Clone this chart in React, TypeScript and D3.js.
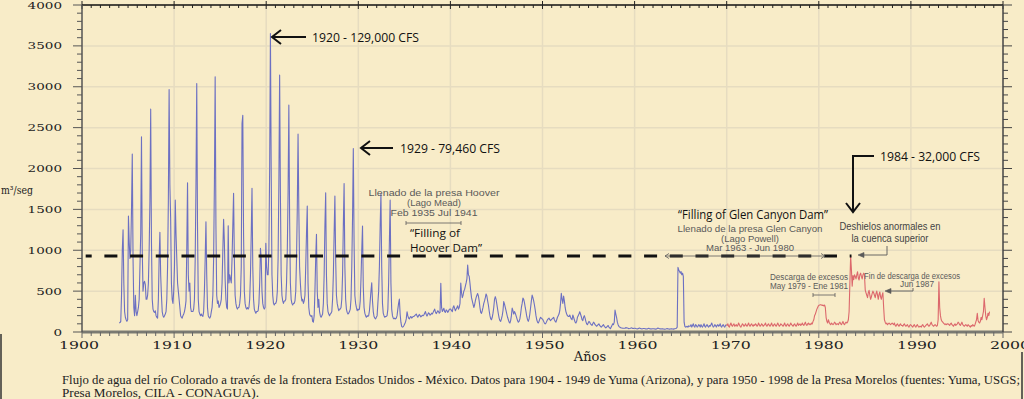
import React, { useEffect, useRef } from 'react';
import * as d3 from 'd3';

// Monthly flow of the Colorado river at the border (m3/s), one row per year, Jan..Dec
// Blue part of the record: 1904 - 1969
const blueStartYear = 1904;
const blueFlow: number[][] = [
  [110, 115, 130, 450, 1000, 1250, 600, 250, 180, 150, 130, 150], // 1904
  [1418, 1100, 900, 1000, 1500, 2176, 900, 300, 200, 450, 250, 200],
  [250, 300, 400, 800, 1200, 2388, 1000, 500, 600, 620, 580, 400],
  [400, 450, 600, 1000, 1600, 2726, 1100, 400, 280, 250, 240, 260],
  [200, 180, 170, 400, 900, 1220, 700, 450, 250, 200, 180, 200],
  [220, 250, 400, 800, 1600, 2966, 1800, 1390, 600, 400, 350, 500],
  [800, 1613, 1200, 900, 600, 500, 400, 300, 200, 180, 170, 200], // 1910
  [220, 250, 300, 380, 1000, 1825, 700, 500, 600, 300, 250, 250],
  [250, 280, 400, 900, 1800, 3040, 1300, 400, 250, 220, 200, 220],
  [200, 190, 250, 500, 900, 1349, 700, 300, 200, 180, 170, 190],
  [250, 300, 450, 900, 1800, 3122, 1300, 450, 350, 380, 300, 320],
  [350, 400, 600, 1000, 1378, 1100, 640, 400, 300, 280, 1300, 600],
  [700, 650, 600, 900, 1300, 1696, 900, 450, 350, 300, 280, 300],
  [300, 350, 450, 800, 2550, 2650, 1200, 500, 350, 300, 280, 300],
  [280, 300, 400, 700, 1200, 1757, 800, 400, 280, 250, 230, 250],
  [250, 260, 350, 600, 1025, 900, 500, 350, 300, 280, 300, 1085],
  [800, 700, 700, 1000, 2000, 3651, 2000, 700, 450, 350, 330, 350], // 1920
  [350, 380, 500, 900, 1800, 3142, 1700, 700, 450, 380, 350, 380],
  [380, 400, 600, 1000, 1700, 2775, 1400, 600, 400, 350, 330, 350],
  [350, 380, 500, 900, 1500, 2420, 1500, 800, 600, 450, 380, 400],
  [350, 380, 450, 800, 1200, 1540, 600, 300, 220, 200, 190, 200],
  [130, 120, 200, 500, 900, 1194, 500, 300, 400, 250, 200, 180],
  [200, 220, 350, 700, 1300, 1703, 700, 350, 250, 220, 200, 220],
  [230, 250, 400, 700, 1200, 1663, 900, 450, 350, 300, 260, 280],
  [280, 300, 400, 700, 1300, 1817, 800, 400, 280, 240, 220, 230],
  [250, 280, 400, 800, 1400, 2245, 1100, 450, 350, 300, 260, 280],
  [270, 280, 380, 650, 1000, 1296, 550, 300, 230, 200, 180, 200], // 1930
  [190, 200, 260, 380, 500, 603, 380, 250, 190, 170, 160, 180],
  [200, 350, 500, 800, 1300, 1695, 800, 350, 230, 200, 180, 190],
  [190, 200, 280, 600, 1100, 1613, 600, 280, 200, 170, 160, 170],
  [160, 170, 200, 280, 350, 403, 220, 120, 70, 60, 65, 80],
  [100, 120, 160, 248, 200, 170, 160, 180, 190, 170, 180, 190],
  [190, 200, 210, 220, 200, 180, 200, 215, 200, 185, 195, 205],
  [200, 210, 230, 250, 215, 195, 215, 235, 225, 205, 215, 230],
  [220, 240, 260, 280, 245, 225, 240, 260, 250, 230, 240, 595],
  [300, 250, 270, 290, 250, 240, 270, 260, 240, 255, 275, 280],
  [280, 260, 250, 300, 320, 290, 260, 280, 300, 320, 280, 300], // 1940
  [350, 600, 480, 420, 450, 500, 520, 560, 600, 650, 819, 700],
  [680, 595, 500, 420, 380, 340, 300, 330, 380, 420, 450, 470],
  [440, 380, 300, 240, 228, 260, 300, 350, 380, 420, 465, 440],
  [380, 330, 260, 200, 160, 150, 180, 230, 300, 400, 432, 400],
  [340, 280, 220, 170, 140, 130, 160, 200, 260, 371, 340, 300],
  [260, 220, 180, 150, 120, 110, 140, 200, 293, 260, 220, 250],
  [230, 200, 170, 140, 120, 130, 160, 220, 300, 350, 415, 400],
  [360, 300, 250, 190, 150, 130, 160, 220, 300, 380, 452, 420],
  [380, 330, 270, 200, 150, 120, 110, 130, 160, 180, 170, 160],
  [150, 130, 110, 100, 110, 130, 150, 160, 170, 150, 140, 150], // 1950
  [160, 170, 180, 150, 130, 120, 150, 180, 200, 220, 260, 350],
  [473, 400, 350, 440, 380, 300, 250, 220, 200, 190, 190, 208],
  [180, 160, 150, 208, 180, 150, 120, 110, 130, 180, 200, 220],
  [248, 220, 190, 150, 140, 180, 200, 170, 130, 100, 90, 110],
  [130, 120, 100, 90, 80, 100, 120, 110, 90, 80, 70, 80],
  [90, 100, 80, 70, 60, 70, 80, 90, 70, 60, 50, 60],
  [70, 80, 60, 50, 40, 60, 80, 100, 90, 120, 269, 220],
  [180, 120, 90, 70, 60, 55, 50, 48, 45, 45, 45, 45],
  [55, 50, 48, 45, 40, 42, 45, 50, 48, 44, 42, 45],
  [45, 42, 40, 38, 40, 45, 48, 44, 40, 38, 40, 42], // 1960
  [42, 40, 38, 36, 38, 42, 45, 40, 38, 36, 38, 40],
  [40, 38, 36, 35, 38, 42, 48, 44, 40, 38, 36, 38],
  [38, 36, 35, 34, 36, 40, 42, 38, 36, 35, 36, 38],
  [38, 36, 35, 38, 40, 42, 45, 60, 790, 760, 740, 720],
  [740, 700, 720, 680, 120, 70, 60, 65, 70, 60, 75, 70],
  [70, 90, 60, 80, 100, 70, 60, 90, 80, 60, 70, 90],
  [80, 60, 90, 70, 60, 80, 100, 70, 60, 80, 90, 70],
  [60, 80, 70, 90, 110, 80, 60, 70, 90, 80, 60, 80],
  [90, 70, 80, 100, 70, 60, 80, 90, 70, 60, 80, 90],
];

// Red part of the record: 1970 - 1998
const redStartYear = 1970;
const redFlow: number[][] = [
  [80, 100, 70, 60, 90, 110, 80, 70, 90, 100, 70, 80], // 1970
  [90, 70, 80, 110, 90, 70, 60, 80, 100, 90, 70, 80],
  [100, 80, 70, 90, 110, 80, 70, 90, 100, 80, 70, 90],
  [80, 100, 90, 70, 80, 110, 90, 70, 80, 100, 90, 70],
  [80, 90, 110, 80, 70, 90, 100, 80, 70, 90, 110, 80],
  [70, 90, 100, 80, 70, 90, 110, 90, 70, 80, 100, 90],
  [80, 70, 90, 110, 80, 70, 90, 100, 80, 70, 90, 110],
  [90, 80, 70, 90, 100, 80, 70, 90, 110, 80, 90, 100],
  [80, 90, 110, 90, 80, 100, 120, 90, 80, 100, 110, 90],
  [100, 90, 110, 100, 130, 150, 200, 220, 250, 280, 300, 320],
  [330, 330, 335, 330, 325, 330, 320, 330, 300, 180, 130, 110], // 1980
  [150, 120, 100, 90, 110, 100, 90, 100, 120, 110, 90, 100],
  [100, 90, 110, 120, 100, 90, 110, 130, 100, 90, 110, 120],
  [110, 120, 150, 250, 600, 930, 760, 560, 690, 640, 700, 680],
  [650, 700, 737, 660, 636, 700, 720, 680, 650, 697, 720, 700],
  [513, 480, 450, 420, 480, 510, 450, 400, 430, 470, 500, 480],
  [450, 420, 470, 500, 450, 400, 460, 490, 430, 400, 450, 480],
  [300, 150, 120, 100, 110, 90, 100, 110, 100, 90, 100, 110],
  [100, 90, 110, 80, 70, 90, 100, 80, 70, 90, 100, 80],
  [80, 70, 90, 100, 80, 70, 80, 90, 70, 60, 80, 90],
  [80, 70, 60, 80, 90, 70, 60, 80, 90, 70, 60, 70], // 1990
  [70, 60, 80, 90, 70, 60, 70, 80, 90, 100, 80, 70],
  [80, 100, 120, 90, 80, 70, 80, 90, 80, 70, 80, 150],
  [615, 300, 200, 150, 130, 120, 110, 100, 90, 100, 90, 100],
  [100, 90, 80, 100, 110, 90, 80, 70, 90, 100, 80, 90],
  [100, 120, 110, 90, 80, 100, 120, 90, 80, 70, 80, 90],
  [80, 70, 90, 80, 70, 60, 80, 70, 90, 80, 70, 90],
  [120, 150, 230, 140, 120, 110, 130, 180, 150, 200, 250, 412],
  [300, 200, 150, 180, 230, 200, 250], // 1998 (to Jul)
];

const yearTicks = [1900, 1910, 1920, 1930, 1940, 1950, 1960, 1970, 1980, 1990, 2000];
const flowTicks = [0, 500, 1000, 1500, 2000, 2500, 3000, 3500, 4000];
const gridYears = [1910, 1920, 1930, 1940, 1950, 1960, 1970, 1980, 1990];
const gridFlows = [500, 1000, 1500, 2000, 2500, 3000, 3500];

// 32,000 CFS level drawn as the dashed line
const thresholdFlow = 929;
const thresholdFrom = 1900.4;
const thresholdTo = 1983.55;

const peakLabels = ['1920 - 129,000 CFS', '1929 - 79,460 CFS', '1984 - 32,000 CFS'];
const captionLines = [
  'Flujo de agua del río Colorado a través de la frontera Estados Unidos - México. Datos para 1904 - 1949 de Yuma (Arizona), y para 1950 - 1998 de la Presa Morelos (fuentes: Yuma, USGS;',
  'Presa Morelos, CILA - CONAGUA).',
];

const BG = '#f8ecc8';
const GRID = '#e6dcc0';
const BLUE = '#6c70c2';
const RED = '#dc686c';
const NOTE = '#5a5a5a';
const SANS = "'Open Sans', 'Noto Sans', sans-serif";
const NARROW = "'Liberation Sans Narrow', 'Liberation Sans', sans-serif";
const SERIF = "'DejaVu Serif', serif";

type Pt = { t: number; v: number };

const toPoints = (rows: number[][], start: number): Pt[] =>
  rows.flatMap((row, i) => row.map((v, m) => ({ t: start + i + (m + 0.5) / 12, v })));

const App = () => {
  const svgRef = useRef<SVGSVGElement>(null);

  useEffect(() => {
    if (!svgRef.current) return;
    const width = 1024;
    const height = 399;
    const svg = d3.select(svgRef.current);
    svg.selectAll('*').remove();

    svg.append('rect').attr('width', width).attr('height', height).attr('fill', BG);

    const x = d3.scaleLinear().domain([1900, 2000]).range([82, 1003]);
    const y = d3.scaleLinear().domain([0, 4000]).range([332, 5]);
    const labelX = d3.scaleLinear().domain([1900, 2000]).range([79, 1010]);

    // grid
    svg.append('g').selectAll('line').data(gridYears).join('line')
      .attr('x1', d => x(d)).attr('x2', d => x(d))
      .attr('y1', y(4000)).attr('y2', y(0))
      .attr('stroke', GRID).attr('stroke-width', 1.5);
    svg.append('g').selectAll('line').data(gridFlows).join('line')
      .attr('x1', x(1900)).attr('x2', x(2000))
      .attr('y1', d => y(d)).attr('y2', d => y(d))
      .attr('stroke', GRID).attr('stroke-width', 1.5);

    // series
    const blue = toPoints(blueFlow, blueStartYear);
    const red = [blue[blue.length - 1], ...toPoints(redFlow, redStartYear)];
    const line = d3.line<Pt>().x(d => x(d.t)).y(d => y(d.v));
    svg.append('path').datum(blue).attr('d', line)
      .attr('fill', 'none').attr('stroke', BLUE).attr('stroke-width', 1.1)
      .attr('stroke-linejoin', 'round');
    svg.append('path').datum(red).attr('d', line)
      .attr('fill', 'none').attr('stroke', RED).attr('stroke-width', 1.1)
      .attr('stroke-linejoin', 'round');

    // axes frame
    const years = d3.range(1900, 2001);
    const hundreds = d3.range(0, 4001, 100);
    const axes = svg.append('g');
    axes.append('line').attr('x1', x(1900)).attr('x2', x(2000)).attr('y1', y(4000)).attr('y2', y(4000))
      .attr('stroke', '#111').attr('stroke-width', 1.5);
    axes.append('g').selectAll('line').data(years).join('line')
      .attr('x1', d => x(d)).attr('x2', d => x(d))
      .attr('y1', d => (d % 10 === 0 ? y(4000) - 4 : y(4000)))
      .attr('y2', d => (d % 10 === 0 ? y(4000) + 4 : y(4000) + 3))
      .attr('stroke', '#222').attr('stroke-width', 1);
    axes.append('line').attr('x1', x(1900)).attr('x2', x(2000)).attr('y1', y(0)).attr('y2', y(0))
      .attr('stroke', '#7a7a72').attr('stroke-width', 3);
    axes.append('g').selectAll('line').data(years).join('line')
      .attr('x1', d => x(d)).attr('x2', d => x(d))
      .attr('y1', y(0))
      .attr('y2', d => (d % 10 === 0 ? y(0) + 6 : y(0) + 4))
      .attr('stroke', '#666').attr('stroke-width', 1);
    axes.append('line').attr('x1', x(1900)).attr('x2', x(1900)).attr('y1', y(4000)).attr('y2', y(0))
      .attr('stroke', '#555').attr('stroke-width', 1.5);
    axes.append('g').selectAll('line').data(hundreds).join('line')
      .attr('x1', d => (d % 500 === 0 ? x(1900) - 9 : x(1900) - 5)).attr('x2', x(1900))
      .attr('y1', d => y(d)).attr('y2', d => y(d))
      .attr('stroke', '#555').attr('stroke-width', 1);
    axes.append('line').attr('x1', x(2000)).attr('x2', x(2000)).attr('y1', y(4000)).attr('y2', y(0))
      .attr('stroke', '#444').attr('stroke-width', 1.5);
    axes.append('g').selectAll('line').data(hundreds).join('line')
      .attr('x1', x(2000)).attr('x2', d => (d % 500 === 0 ? x(2000) + 9 : x(2000) + 5))
      .attr('y1', d => y(d)).attr('y2', d => y(d))
      .attr('stroke', '#444').attr('stroke-width', 1);

    // tick labels
    svg.append('g').selectAll('text').data(yearTicks).join('text')
      .attr('x', d => labelX(d) - 20).attr('y', 349)
      .attr('textLength', 40).attr('lengthAdjust', 'spacingAndGlyphs')
      .style('font-family', SERIF).style('font-size', '10.5px').style('fill', '#222')
      .text(d => d);
    svg.append('g').selectAll('text').data(flowTicks).join('text')
      .attr('x', d => 62 - String(d).length * 8.6).attr('y', d => y(d) + 3.5)
      .attr('textLength', d => String(d).length * 8.6).attr('lengthAdjust', 'spacingAndGlyphs')
      .style('font-family', SERIF).style('font-size', '9.5px').style('fill', '#222')
      .text(d => d);
    svg.append('text').attr('x', 1).attr('y', 194)
      .attr('textLength', 32).attr('lengthAdjust', 'spacingAndGlyphs')
      .style('font-family', SERIF).style('font-size', '11px').style('fill', '#222')
      .text('m³/seg');
    svg.append('text').attr('x', 590).attr('y', 361).attr('text-anchor', 'middle')
      .style('font-family', SERIF).style('font-size', '13px').style('fill', '#222')
      .text('Años');

    // caption
    svg.append('g').selectAll('text').data(captionLines).join('text')
      .attr('x', 62).attr('y', (d, i) => 384 + i * 12.5)
      .attr('textLength', (d, i) => (i === 0 ? 958 : 197)).attr('lengthAdjust', 'spacingAndGlyphs')
      .style('font-family', "'Liberation Serif', serif").style('font-size', '11.5px').style('fill', '#222')
      .text(d => d);
    svg.append('line').attr('x1', 1).attr('x2', 1).attr('y1', 334).attr('y2', 399)
      .attr('stroke', '#333').attr('stroke-width', 1.5);
    svg.append('line').attr('x1', 1022).attr('x2', 1022).attr('y1', 352).attr('y2', 399)
      .attr('stroke', '#333').attr('stroke-width', 1.5);

    // dashed 32,000 CFS level
    svg.append('line')
      .attr('x1', x(thresholdFrom)).attr('x2', x(thresholdTo))
      .attr('y1', y(thresholdFlow)).attr('y2', y(thresholdFlow))
      .attr('stroke', '#111').attr('stroke-width', 3)
      .attr('stroke-dasharray', '13 12.7').attr('stroke-dashoffset', 7);

    const note = svg.append('g');
    const text = (s: string, px: number, py: number, len: number, size: number, family: string, color: string, anchor = 'start') =>
      note.append('text').attr('x', px).attr('y', py).attr('text-anchor', anchor)
        .attr('textLength', len).attr('lengthAdjust', 'spacingAndGlyphs')
        .style('font-family', family).style('font-size', `${size}px`).style('fill', color)
        .text(s);
    const path = (d: string, color: string, w: number, fill = 'none') =>
      note.append('path').attr('d', d).attr('fill', fill).attr('stroke', color).attr('stroke-width', w);

    // peak callouts
    path('M306,37 L272,37 M281,30 L272,37 L281,44', '#111', 2);
    text(peakLabels[0], 312, 41.5, 107, 13, SANS, '#111');
    path('M393,148 L361,148 M370,141 L361,148 L370,155', '#111', 2);
    text(peakLabels[1], 400, 152.5, 100, 13, SANS, '#111');
    path('M874,156 L853,156 L853,212 M846,203 L853,212 L860,203', '#111', 2);
    text(peakLabels[2], 880, 160.5, 100, 13, SANS, '#111');

    // Hoover
    text('Llenado de la presa Hoover', 434, 196, 131, 9.5, NARROW, NOTE, 'middle');
    text('(Lago Mead)', 434, 206, 54, 9.5, NARROW, NOTE, 'middle');
    text('Feb 1935 Jul 1941', 434, 216, 87, 9.5, NARROW, NOTE, 'middle');
    path('M406,223 L461,223 M406,221 L406,225 M461,221 L461,225', NOTE, 0.8);
    text('“Filling of', 410, 236.5, 50, 11, SANS, '#111');
    text('Hoover Dam”', 410, 251.5, 72, 11, SANS, '#111');

    // Glen Canyon
    text('“Filling of Glen Canyon Dam”', 678, 218.5, 150, 13.5, SANS, '#111');
    text('Llenado de la presa Glen Canyon', 750, 232, 145, 9.5, NARROW, NOTE, 'middle');
    text('(Lago Powell)', 750, 241.5, 58, 9.5, NARROW, NOTE, 'middle');
    text('Mar 1963 - Jun 1980', 750, 251, 88, 9.5, NARROW, NOTE, 'middle');
    path('M665,256 L825,256 M669,253.5 L665,256 L669,258.5 M821,253.5 L825,256 L821,258.5', NOTE, 0.8);

    // 1983 snowmelt
    text('Deshielos anormales en', 890, 230, 101, 11, NARROW, '#444', 'middle');
    text('la cuenca superior', 890, 242, 77, 11, NARROW, '#444', 'middle');
    path('M887,246 L887,255 L862,255', NOTE, 0.9);
    path('M858,255 L864,252.5 L864,257.5 Z', NOTE, 0.6, NOTE);

    // surplus releases
    text('Descarga de excesos', 809, 280, 78, 8.5, NARROW, NOTE, 'middle');
    text('May 1979 - Ene 1981', 809, 289, 78, 8.5, NARROW, NOTE, 'middle');
    path('M813,295 L835,295 M813,293 L813,297 M835,293 L835,297', NOTE, 0.8);
    text('Fin de descarga de excesos', 912, 279, 96, 8.5, NARROW, NOTE, 'middle');
    text('Jun 1987', 917, 287, 34, 8.5, NARROW, NOTE, 'middle');
    path('M913,288 L913,291 L889,291', NOTE, 0.9);
    path('M885,291 L891,288.5 L891,293.5 Z', NOTE, 0.6, NOTE);
  }, []);

  return (
    <svg
      ref={svgRef}
      width={1024}
      height={399}
      style={{ position: 'absolute', left: 0, top: 0, display: 'block' }}
    />
  );
};

export default App;
